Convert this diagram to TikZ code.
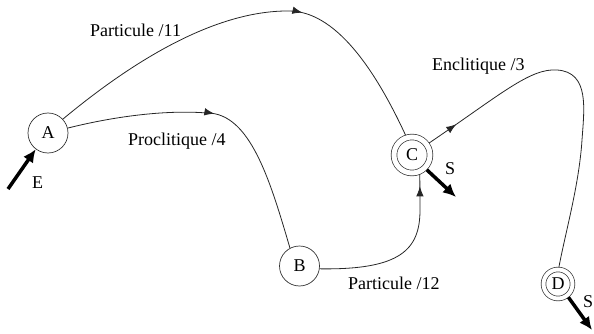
\documentclass[tikz,border=0pt]{standalone}
\usepackage{fontspec}
\setmainfont{Liberation Serif}
\usetikzlibrary{arrows.meta,decorations.markings}
\begin{document}
\begin{tikzpicture}[x=1pt,y=-1pt,
  every node/.style={font=\fontsize{18}{20}\selectfont},
  state/.style={circle,draw=black!80,line width=0.7pt,inner sep=0pt,minimum size=40pt},
  finalC/.style={state,double,double distance=5pt,minimum size=36pt,outer sep=2.85pt},
  finalD/.style={state,double,double distance=4pt,minimum size=29pt,outer sep=2.35pt},
  trans/.style={line width=0.8pt,draw=black!85},
  midarrow/.style={postaction={decorate},decoration={markings,
      mark=at position #1 with {\arrow{Latex[length=10pt,width=7.5pt]}}}},
  io/.style={line width=3.5pt,-{Latex[length=13pt,width=12pt]}},
  lbl/.style={anchor=base west,inner sep=0pt}
]
\useasboundingbox (0,0) rectangle (594,334);

% states
\node[state]  (A) at (48,133)    {A};
\node[state]  (B) at (299.5,266) {B};
\node[finalC] (C) at (412,155)   {C};
\node[finalD] (D) at (558,284)   {D};

% entry and exits
\coordinate (e0) at (8,189);
\coordinate (sc) at (456,197);
\coordinate (sd) at (592,330);
\draw[io] (e0) -- (A.233);
\draw[io] (C.-45) -- (sc);
\draw[io] (D.-52) -- (sd);
\node[lbl] (lE)  at (32,188)  {E};
\node[lbl] (lSC) at (445,174) {S};
\node[lbl] (lSD) at (583,307) {S};

% transitions
\draw[trans,midarrow=0.62] (A.43) .. controls (140,55) and (220,10) .. (290,11)
  .. controls (340,12) and (380,80) .. (C.108);
\draw[trans,midarrow=0.48] (A.14) .. controls (120,115) and (170,110) .. (207,113)
  .. controls (250,113) and (270,180) .. (B.118);
\draw[trans,midarrow=-12pt] (B.-8) .. controls (400,270) and (420,250) .. (420,210)
  -- (C.-68);
\draw[trans,midarrow=33pt] (C.35) .. controls (500,95) and (530,68) .. (557,70)
  .. controls (590,72) and (584,110) .. (582,140)
  .. controls (579,185) and (566,230) .. (D.87);

% transition labels
\node[lbl] (l11) at (90,37)   {Particule /11};
\node[lbl] (l4)  at (128,146) {Proclitique /4};
\node[lbl] (l12) at (348,289) {Particule /12};
\node[lbl] (l3)  at (432,71)  {Enclitique /3};
\end{tikzpicture}
\end{document}
